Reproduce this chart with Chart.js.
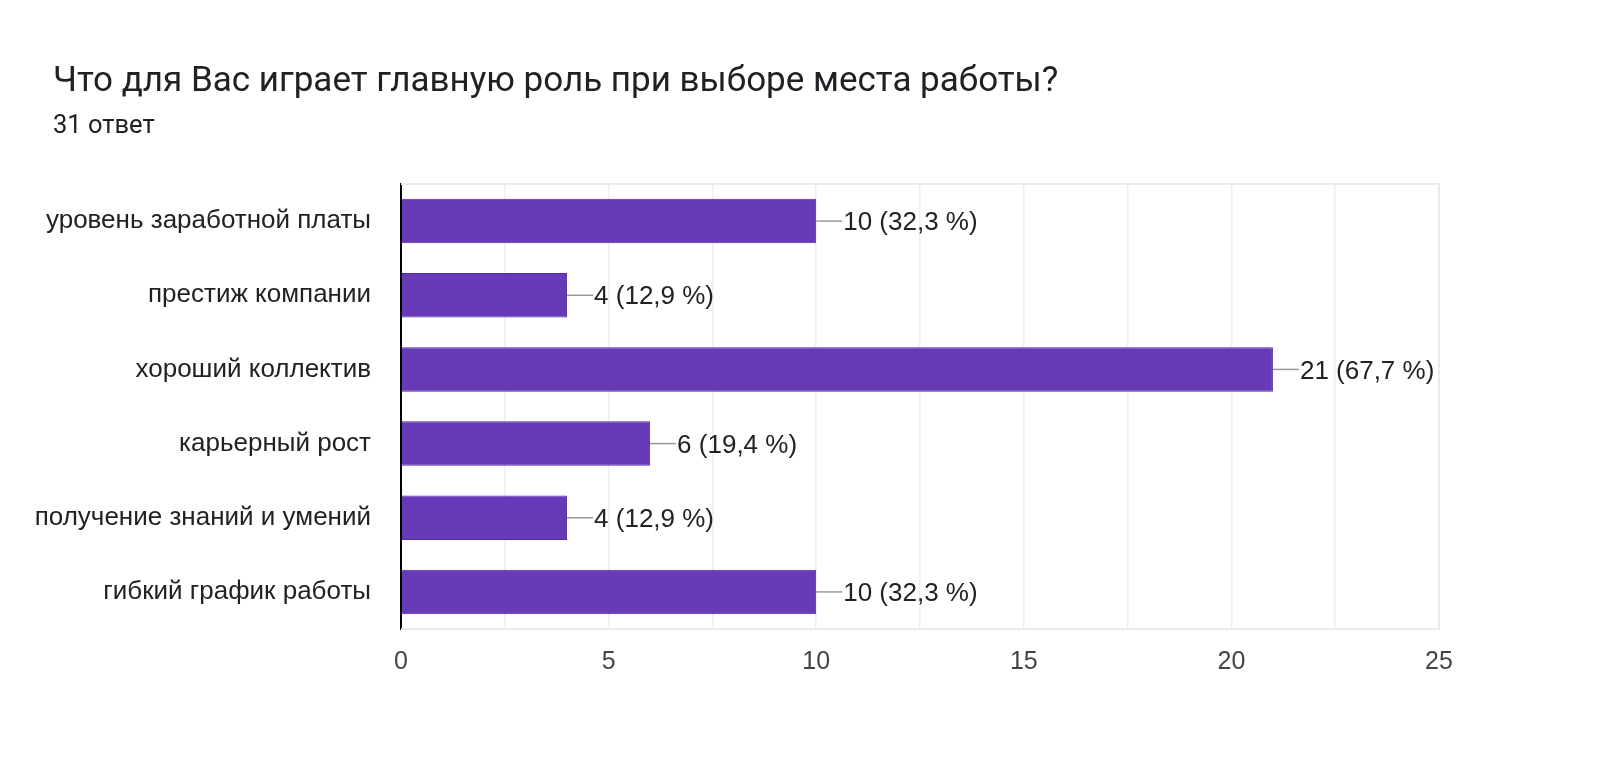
<!DOCTYPE html>
<html lang="ru">
<head>
  <meta charset="UTF-8" />
  <title>Что для Вас играет главную роль при выборе места работы?</title>
  <script src="https://cdn.jsdelivr.net/npm/chart.js"></script>
  <style>
    body {
      margin: 0;
      padding: 0;
      background: #fff;
      overflow: hidden;
    }
    .wrap {
      position: relative;
      width: 1600px;
      height: 761px;
    }
    .title {
      position: absolute;
      left: 53px;
      top: 59px;
      font-family: Roboto, 'Noto Sans', sans-serif;
      font-size: 35px;
      color: #202124;
      white-space: nowrap;
    }
    .subtitle {
      position: absolute;
      left: 53px;
      top: 109px;
      font-family: Roboto, 'Noto Sans', sans-serif;
      font-size: 25.5px;
      color: #202124;
    }
    canvas {
      position: absolute;
      left: 0;
      top: 0;
    }
  </style>
</head>
<body>
  <div class="wrap">
    <canvas id="chart" width="1600" height="761"></canvas>
    <div class="title">Что для Вас играет главную роль при выборе места работы?</div>
    <div class="subtitle">31 ответ</div>
  </div>

  <script>
    const categories = [
      "уровень заработной платы",
      "престиж компании",
      "хороший коллектив",
      "карьерный рост",
      "получение знаний и умений",
      "гибкий график работы"
    ];
    const counts = [10, 4, 21, 6, 4, 10];
    const percents = ["32,3", "12,9", "67,7", "19,4", "12,9", "32,3"];
    const xTicks = [0, 5, 10, 15, 20, 25];

    const labelFont = "26px 'Liberation Sans', Arial, sans-serif";

    // рамка области графика
    const framePlugin = {
      id: "frame",
      beforeDatasetsDraw(chart) {
        const a = chart.chartArea;
        const ctx = chart.ctx;
        ctx.save();
        ctx.strokeStyle = "#ebebeb";
        ctx.lineWidth = 2;
        ctx.beginPath();
        ctx.moveTo(a.left, a.top);
        ctx.lineTo(a.right, a.top);
        ctx.lineTo(a.right, a.bottom);
        ctx.lineTo(a.left, a.bottom);
        ctx.stroke();
        ctx.restore();
      }
    };

    // подписи значений с выноской
    const valueLabels = {
      id: "valueLabels",
      afterDatasetsDraw(chart) {
        const ctx = chart.ctx;
        const meta = chart.getDatasetMeta(0);
        ctx.save();
        meta.data.forEach((bar, i) => {
          ctx.strokeStyle = "#999";
          ctx.lineWidth = 1.5;
          ctx.beginPath();
          ctx.moveTo(bar.x, bar.y);
          ctx.lineTo(bar.x + 26, bar.y);
          ctx.stroke();
          ctx.fillStyle = "#222";
          ctx.font = labelFont;
          ctx.textAlign = "left";
          ctx.textBaseline = "middle";
          ctx.fillText(counts[i] + " (" + percents[i] + " %)", bar.x + 27, bar.y + 2);
        });
        ctx.restore();
      }
    };

    new Chart(document.getElementById("chart"), {
      type: "bar",
      data: {
        labels: categories,
        datasets: [{
          data: counts,
          backgroundColor: "#673ab7",
          borderColor: "#5128a6",
          borderWidth: 1,
          barPercentage: 0.6,
          categoryPercentage: 1
        }]
      },
      options: {
        indexAxis: "y",
        responsive: false,
        animation: false,
        layout: {
          padding: { left: 0, top: 184, right: 161, bottom: 0 }
        },
        plugins: {
          legend: { display: false },
          tooltip: { enabled: false }
        },
        scales: {
          x: {
            min: 0,
            max: 25,
            afterFit(scale) { scale.height = 132; },
            afterBuildTicks(scale) {
              const t = [];
              for (let v = 0; v <= 25; v += 2.5) t.push({ value: v });
              scale.ticks = t;
            },
            ticks: {
              padding: 18,
              color: "#444",
              font: { family: "'Liberation Sans', Arial, sans-serif", size: 25 },
              callback: v => xTicks.includes(v) ? String(v) : ""
            },
            grid: {
              drawTicks: false,
              color: c => c.tick && c.tick.value === 0 ? "rgba(0,0,0,0)" : "#efefef",
              lineWidth: 1.5
            },
            border: { display: false }
          },
          y: {
            afterFit(scale) { scale.width = 401; },
            ticks: {
              padding: 30,
              color: "#222",
              font: { family: "'Liberation Sans', Arial, sans-serif", size: 26 }
            },
            grid: { display: false, drawTicks: false },
            border: { display: true, color: "#000", width: 2 }
          }
        }
      },
      plugins: [framePlugin, valueLabels]
    });
  </script>
</body>
</html>
